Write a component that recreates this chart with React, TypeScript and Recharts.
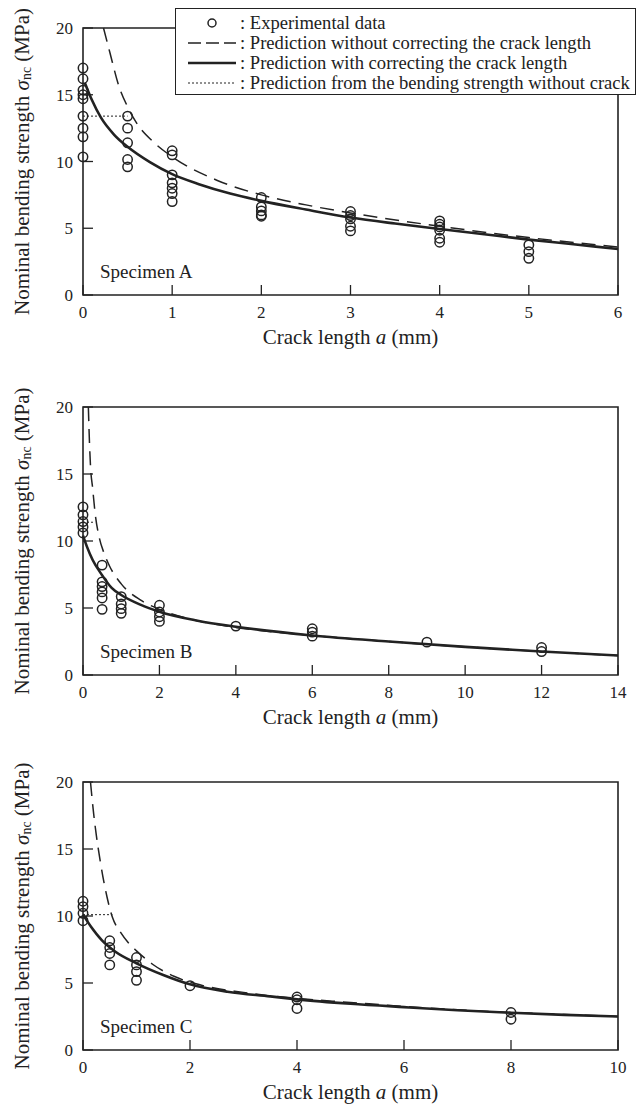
import { ComposedChart, XAxis, YAxis, Line, Scatter, ReferenceArea, Legend, Label } from "recharts";

const FONT = '"Liberation Serif", "Times New Roman", serif';
const INK = "#222";

// y axis is shared by all three specimens
const yTicks = [0, 5, 10, 15, 20];

// ---- Specimen A ----
const ticksA = [0, 1, 2, 3, 4, 5, 6];
const expA: [number, number[]][] = [
  [0, [17.0, 16.2, 15.35, 15.0, 14.7, 13.4, 12.5, 11.85, 10.35]],
  [0.5, [13.4, 12.5, 11.4, 10.15, 9.6]],
  [1, [10.8, 10.5, 9.0, 8.4, 8.0, 7.6, 7.0]],
  [2, [7.3, 6.6, 6.3, 6.0, 5.9]],
  [3, [6.25, 5.95, 5.7, 5.15, 4.8]],
  [4, [5.55, 5.3, 5.1, 4.85, 4.25, 3.95]],
  [5, [3.75, 3.25, 2.75]],
];
const dashAx = [0.23, 0.3, 0.4, 0.5, 0.6, 0.8, 1, 1.5, 2, 2.5, 3, 4, 5, 6];
const dashAy = [20, 18.2, 15.7, 14.1, 12.9, 11.4, 10.35, 8.6, 7.5, 6.75, 6.15, 5.15, 4.3, 3.6];
const solidAx = [0.02, 0.1, 0.2, 0.35, 0.5, 0.75, 1, 1.3, 1.65, 2, 2.5, 3, 3.5, 4, 4.5, 5, 5.5, 6];
const solidAy = [15.9, 14.6, 13.3, 12.0, 11.1, 9.95, 9.05, 8.3, 7.6, 7.05, 6.4, 5.8, 5.35, 4.95, 4.55, 4.15, 3.8, 3.45];
const flatAx = [0, 0.5];
const flatAy = [13.4, 13.4];

// ---- Specimen B ----
const ticksB = [0, 2, 4, 6, 8, 10, 12, 14];
const expB: [number, number[]][] = [
  [0, [12.55, 11.95, 11.45, 11.05, 10.6]],
  [0.5, [8.2, 6.95, 6.6, 6.2, 5.75, 4.9]],
  [1, [5.85, 5.3, 4.95, 4.6]],
  [2, [5.2, 4.7, 4.35, 4.0]],
  [4, [3.65]],
  [6, [3.45, 3.2, 2.9]],
  [9, [2.45]],
  [12, [2.05, 1.75]],
];
const dashBx = [0.14, 0.17, 0.2, 0.25, 0.32, 0.43, 0.55, 0.7, 1, 1.5, 2, 3, 4, 6, 8, 10, 12, 14];
const dashBy = [20, 17.3, 15.4, 14.0, 12.0, 10.2, 9.1, 8.1, 6.8, 5.6, 4.9, 4.05, 3.55, 2.95, 2.5, 2.1, 1.76, 1.45];
const solidBx = [0, 0.1, 0.25, 0.5, 0.75, 1, 1.5, 2, 3, 4, 6, 8, 10, 12, 14];
const solidBy = [10.4, 9.6, 8.6, 7.45, 6.5, 5.97, 5.25, 4.72, 4.05, 3.6, 2.95, 2.5, 2.1, 1.75, 1.45];
const flatBx = [0, 0.3];
const flatBy = [11.4, 11.4];

// ---- Specimen C ----
const ticksC = [0, 2, 4, 6, 8, 10];
const expC: [number, number[]][] = [
  [0, [11.1, 10.7, 10.2, 9.65]],
  [0.5, [8.15, 7.65, 7.2, 6.35]],
  [1, [6.9, 6.35, 5.85, 5.2]],
  [2, [4.8]],
  [4, [3.95, 3.75, 3.1]],
  [8, [2.8, 2.3]],
];
const dashCx = [0.14, 0.2, 0.25, 0.33, 0.45, 0.55, 0.7, 0.86, 1, 1.3, 1.7, 2.2, 3, 4, 5, 6, 7, 8, 9, 10];
const dashCy = [20, 17.6, 16.0, 13.9, 11.4, 9.9, 8.8, 7.95, 7.4, 6.4, 5.5, 4.85, 4.3, 3.85, 3.55, 3.25, 3.0, 2.8, 2.65, 2.5];
const solidCx = [0, 0.15, 0.35, 0.6, 1, 1.5, 2, 2.7, 3.5, 4, 5, 6, 7, 8, 9, 10];
const solidCy = [10.1, 9.2, 8.2, 7.35, 6.47, 5.6, 4.9, 4.35, 4.0, 3.78, 3.45, 3.2, 2.97, 2.78, 2.62, 2.5];
const flatCx = [0, 0.55];
const flatCy = [10.1, 10.1];

const legendLabels = [
  "Experimental data",
  "Prediction without correcting the crack length",
  "Prediction with correcting the crack length",
  "Prediction from the bending strength without crack",
];

const zip = (xs: number[], ys: number[]) => xs.map((x, i) => ({ x, y: ys[i] }));
const flat = (rows: [number, number[]][]) => rows.flatMap(([x, ys]) => ys.map((y) => ({ x, y })));

function Ring(p: any) {
  return <circle cx={p.cx} cy={p.cy} r={4.7} fill="none" stroke={INK} strokeWidth={1.5} />;
}

// ticks point into the plot, so draw them ourselves
function XTick(p: any) {
  return (
    <g>
      <line x1={p.x} x2={p.x} y1={p.y} y2={p.y - 10} stroke={INK} strokeWidth={1.3} />
      <text x={p.x} y={p.y + 23} textAnchor="middle" fontSize={17} fill={INK}>{p.payload.value}</text>
    </g>
  );
}

function YTick(p: any) {
  return (
    <g>
      <line x1={p.x} x2={p.x + 10} y1={p.y} y2={p.y} stroke={INK} strokeWidth={1.3} />
      <text x={p.x - 10} y={p.y + 6} textAnchor="end" fontSize={17} fill={INK}>{p.payload.value}</text>
    </g>
  );
}

function legendMark(i: number) {
  if (i === 0) return <circle cx={25} cy={10} r={4} fill="none" stroke={INK} strokeWidth={1.5} />;
  if (i === 1) return <line x1={1} x2={49} y1={10} y2={10} stroke={INK} strokeWidth={1.3} strokeDasharray="13 5" />;
  if (i === 2) return <line x1={1} x2={49} y1={10} y2={10} stroke={INK} strokeWidth={2.6} />;
  return <line x1={1} x2={49} y1={10} y2={10} stroke={INK} strokeWidth={1} strokeDasharray="2 2" />;
}

function LegendBox() {
  return (
    <div style={{ width: 461, height: 87, boxSizing: "border-box", border: `1.5px solid ${INK}`, background: "#fff", paddingTop: 3.5, fontSize: 18.6, color: INK, fontFamily: FONT }}>
      {legendLabels.map((t, i) => (
        <div key={t} style={{ display: "flex", alignItems: "center", height: 20 }}>
          <svg width={50} height={20} style={{ marginLeft: 11, flex: "none" }}>{legendMark(i)}</svg>
          <span style={{ marginLeft: 3, whiteSpace: "nowrap" }}>: {t}</span>
        </div>
      ))}
    </div>
  );
}

function XTitle(p: any) {
  const vb = p.viewBox;
  return (
    <text x={vb.x + vb.width / 2} y={vb.y + 49} textAnchor="middle" fontSize={21} fill={INK}>
      Crack length <tspan fontStyle="italic">a</tspan> (mm)
    </text>
  );
}

function YTitle(p: any) {
  const vb = p.viewBox;
  const cx = 22;
  const cy = vb.y + vb.height / 2;
  return (
    <text x={cx} y={cy} transform={`rotate(-90 ${cx} ${cy})`} textAnchor="middle" dominantBaseline="central" fontSize={21} fill={INK}>
      Nominal bending strength <tspan fontStyle="italic">σ</tspan>
      <tspan fontSize={14} dy={4}>nc</tspan>
      <tspan dy={-4}> (MPa)</tspan>
    </text>
  );
}

function Panel(props: any) {
  const { exp, dashX, dashY, solidX, solidY, flatX, flatY, xTicks, name, height, top, bottom, legend } = props;
  const xMax = xTicks[xTicks.length - 1];
  return (
    <ComposedChart width={637} height={height} margin={{ top, right: 19, bottom: bottom - 1, left: 82 }}>
      <XAxis type="number" dataKey="x" domain={[0, xMax]} ticks={xTicks} interval={0} height={1}
        axisLine={false} tickLine={false} tickSize={0} tickMargin={0} tick={<XTick />}>
        <Label content={XTitle} />
      </XAxis>
      <YAxis type="number" dataKey="y" domain={[0, 20]} ticks={yTicks} interval={0} width={1}
        axisLine={false} tickLine={false} tickSize={0} tickMargin={0} tick={<YTick />}>
        <Label content={YTitle} />
      </YAxis>
      <ReferenceArea x1={0} x2={xMax} y1={0} y2={20} fill="none" stroke={INK} strokeWidth={1.6}
        label={{ value: name, position: "insideBottomLeft", offset: 17, fontSize: 19, fill: INK }} />
      <Line data={zip(dashX, dashY)} dataKey="y" type="monotone" stroke={INK} strokeWidth={1.5} strokeDasharray="14 8"
        dot={false} activeDot={false} isAnimationActive={false} />
      <Line data={zip(solidX, solidY)} dataKey="y" type="monotone" stroke={INK} strokeWidth={2.6}
        dot={false} activeDot={false} isAnimationActive={false} />
      <Line data={zip(flatX, flatY)} dataKey="y" type="linear" stroke={INK} strokeWidth={1} strokeDasharray="2 2"
        dot={false} activeDot={false} isAnimationActive={false} />
      <Scatter data={flat(exp)} shape={Ring} isAnimationActive={false} />
      {legend && (
        <Legend content={LegendBox} layout="vertical" align="center" verticalAlign="middle"
          wrapperStyle={{ top: 8, left: 175, width: 461 }} />
      )}
    </ComposedChart>
  );
}

export default function App() {
  return (
    <div style={{ width: 637, height: 1106, background: "#fff", fontFamily: FONT }}>
      <style>{"body{margin:0}"}</style>
      <Panel exp={expA} dashX={dashAx} dashY={dashAy} solidX={solidAx} solidY={solidAy} flatX={flatAx} flatY={flatAy}
        xTicks={ticksA} name="Specimen A" height={370} top={28} bottom={75} legend />
      <Panel exp={expB} dashX={dashBx} dashY={dashBy} solidX={solidBx} solidY={solidBy} flatX={flatBx} flatY={flatBy}
        xTicks={ticksB} name="Specimen B" height={375} top={37} bottom={70} />
      <Panel exp={expC} dashX={dashCx} dashY={dashCy} solidX={solidCx} solidY={solidCy} flatX={flatCx} flatY={flatCy}
        xTicks={ticksC} name="Specimen C" height={361} top={37} bottom={56} />
    </div>
  );
}
